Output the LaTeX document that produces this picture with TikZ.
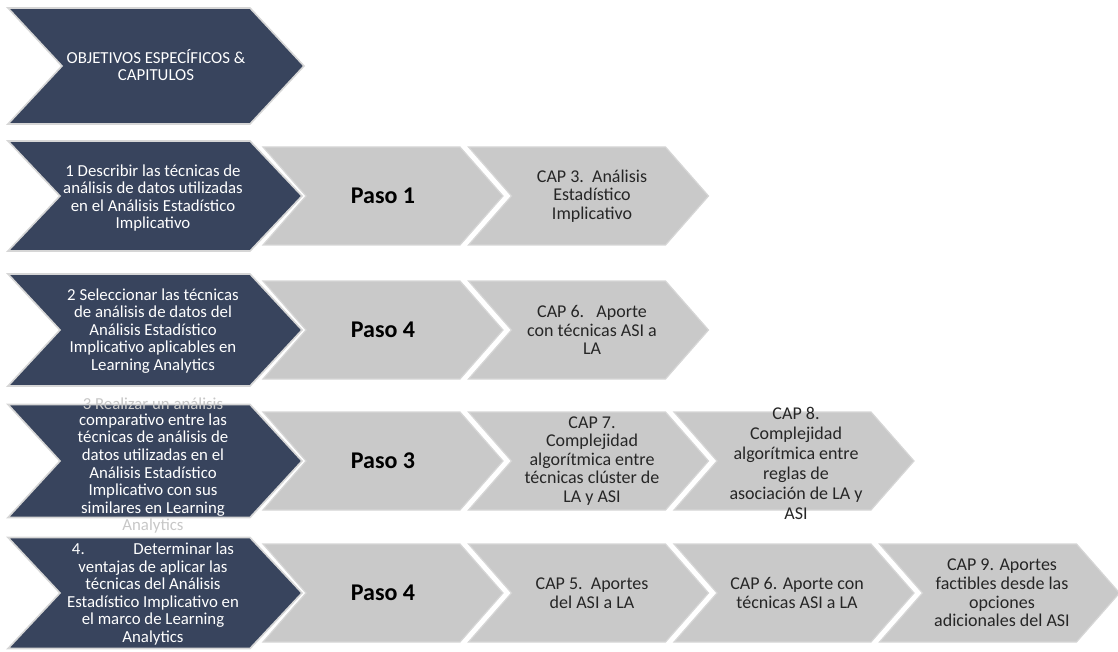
\documentclass[tikz,border=0pt]{standalone}
\usepackage{fontspec}
\setmainfont{Carlito}
\usetikzlibrary{positioning}

\definecolor{azul}{RGB}{56,68,93}
\definecolor{gris}{RGB}{201,201,201}
\definecolor{borde}{RGB}{214,214,214}

% flecha tipo chevron : x izquierda, y centro, ancho, alto, punta, estilo
\newcommand{\flecha}[6]{%
  \pgfmathsetmacro{\fx}{#1}
  \pgfmathsetmacro{\fy}{#2}
  \pgfmathsetmacro{\fw}{#3}
  \pgfmathsetmacro{\fh}{#4/2}
  \pgfmathsetmacro{\fp}{#5}

  \filldraw [#6]
        (\fx, \fy-\fh) -- (\fx+\fw-\fp, \fy-\fh) -- (\fx+\fw, \fy)
        -- (\fx+\fw-\fp, \fy+\fh) -- (\fx, \fy+\fh) -- (\fx+\fp, \fy) -- cycle ;
}

\tikzset{
  objetivo/.style={fill=azul, draw=borde, line width=1.6pt, line join=miter},
  paso/.style={fill=gris, draw=borde, line width=1.2pt, line join=miter},
  objtxt/.style={text=white, align=center, inner sep=0pt,
                 font=\fontsize{16.8}{17.6}\selectfont},
  pasotxt/.style={text=black, inner sep=0pt,
                  font=\fontsize{24}{26}\selectfont\bfseries},
  captxt/.style={text=black!85, align=center, inner sep=0pt,
                 font=\fontsize{18}{18.6}\selectfont},
}

\begin{document}
\begin{tikzpicture}[x=1pt, y=-1pt]
  \useasboundingbox (0,0) rectangle (1118,652) ;

  % titulo
  \flecha{8}{66}{296}{116}{54}{objetivo}
  \node (obj0) at (156,65) [objtxt] {OBJETIVOS ESPECÍFICOS \&\\CAPITULOS} ;

  % objetivo 1
  \begin{scope}[shift={(0,196)}]
    \flecha{8}{0}{294}{110}{52}{objetivo}
    \flecha{263}{0}{240}{98}{43}{paso}
    \flecha{468.5}{0}{240}{98}{43}{paso}
    \node (obj1) at (153,2) [objtxt]
          {1 Describir las técnicas de\\análisis de datos utilizadas\\en el Análisis Estadístico\\Implicativo} ;
    \node (paso1) at (383,0) [pasotxt] {Paso 1} ;
    \node (cap3) at (592,0) [captxt]
          {CAP 3.\ \ Análisis\\Estadístico\\Implicativo} ;
  \end{scope}

  % objetivo 2
  \begin{scope}[shift={(0,330)}]
    \flecha{8}{0}{294}{112}{52}{objetivo}
    \flecha{263}{0}{240}{98}{43}{paso}
    \flecha{468.5}{0}{240}{98}{43}{paso}
    \node (obj2) at (153,1) [objtxt]
          {2 Seleccionar las técnicas\\de análisis de datos del\\Análisis Estadístico\\Implicativo aplicables en\\Learning Analytics} ;
    \node (paso2) at (383,0) [pasotxt] {Paso 4} ;
    \node (cap6a) at (592,0) [captxt]
          {CAP 6.\ \ \ Aporte\\con técnicas ASI a\\LA} ;
  \end{scope}

  % objetivo 3
  \begin{scope}[shift={(0,461)}]
    \flecha{8}{0}{294}{113}{52}{objetivo}
    \flecha{263}{0}{240}{98}{43}{paso}
    \flecha{468.5}{0}{240}{98}{43}{paso}
    \flecha{674}{0}{240}{98}{43}{paso}
    \node (obj3) at (153,4) [objtxt]
          {comparativo entre las\\técnicas de análisis de\\datos utilizadas en el\\Análisis Estadístico\\Implicativo con sus\\similares en Learning} ;
    \node (obj3a) [objtxt, text=black!22, above=4pt of obj3] {3 Realizar un análisis} ;
    \node (obj3b) [objtxt, text=black!22, below=2pt of obj3] {Analytics} ;
    \node (paso3) at (383,0) [pasotxt] {Paso 3} ;
    \node (cap7) at (592,0) [captxt]
          {CAP 7.\\Complejidad\\algorítmica entre\\técnicas clúster de\\LA y ASI} ;
    \node (cap8) at (796,2) [captxt, font=\fontsize{18}{20}\selectfont]
          {CAP 8.\\Complejidad\\algorítmica entre\\reglas de\\asociación de LA y\\ASI} ;
  \end{scope}

  % objetivo 4
  \begin{scope}[shift={(0,593)}]
    \flecha{8}{0}{294}{111}{52}{objetivo}
    \flecha{263}{0}{240}{98}{43}{paso}
    \flecha{468.5}{0}{240}{98}{43}{paso}
    \flecha{674}{0}{240}{98}{43}{paso}
    \flecha{879.5}{0}{240}{98}{43}{paso}
    \node (obj4) at (153,1) [objtxt]
          {4.\hspace{2.9em}Determinar las\\ventajas de aplicar las\\técnicas del Análisis\\Estadístico Implicativo en\\el marco de Learning\\Analytics} ;
    \node (paso4) at (383,0) [pasotxt] {Paso 4} ;
    \node (cap5) at (592,0) [captxt] {CAP 5.\ \ Aportes\\del ASI a LA} ;
    \node (cap6b) at (797,0) [captxt] {CAP 6. Aporte con\\técnicas ASI a LA} ;
    \node (cap9) at (1002,0) [captxt]
          {CAP 9. Aportes\\factibles desde las\\opciones\\adicionales del ASI} ;
  \end{scope}
\end{tikzpicture}
\end{document}
